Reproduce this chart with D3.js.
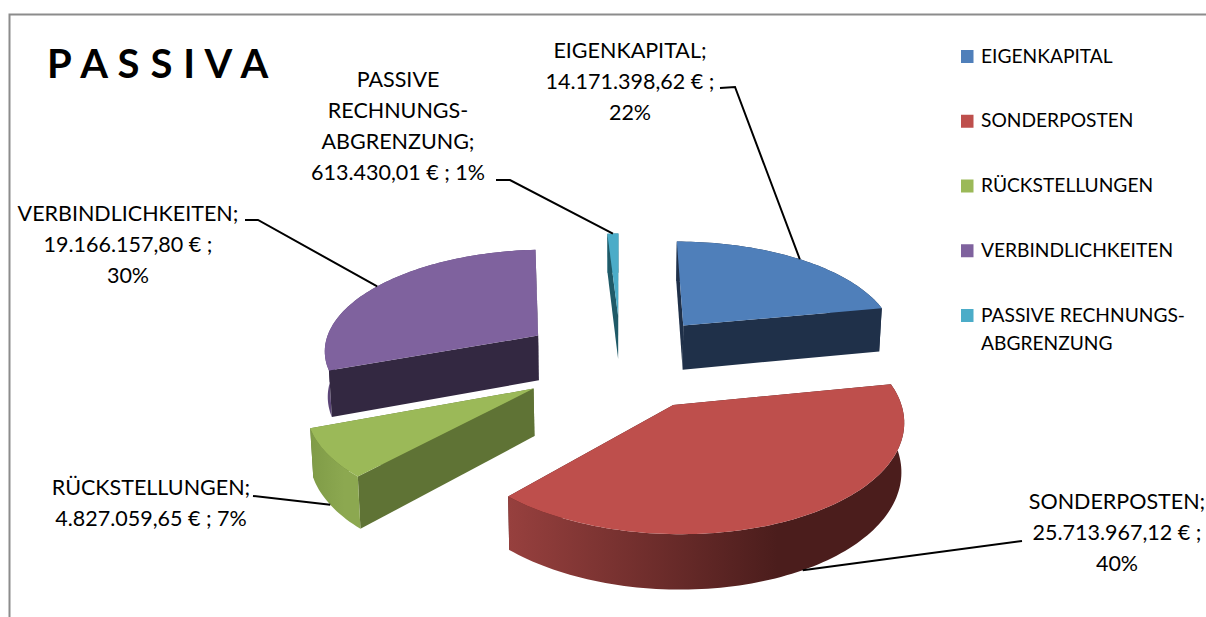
<!DOCTYPE html>
<html>
<head>
<meta charset="utf-8">
<script src="https://cdnjs.cloudflare.com/ajax/libs/d3/7.8.5/d3.min.js"></script>
<style>
html,body{margin:0;padding:0;background:#fff;}
svg{display:block;}
text{font-family:Lato,"Open Sans",sans-serif;fill:#000;}
</style>
</head>
<body>
<div id="chart"></div>
<script>
// data
var categories=["EIGENKAPITAL","SONDERPOSTEN","RÜCKSTELLUNGEN","VERBINDLICHKEITEN","PASSIVE RECHNUNGS-ABGRENZUNG"];
var values=[14171398.62,25713967.12,4827059.65,19166157.80,613430.01];
var nameLines=[["EIGENKAPITAL;"],["SONDERPOSTEN;"],["RÜCKSTELLUNGEN;"],["VERBINDLICHKEITEN;"],["PASSIVE","RECHNUNGS-","ABGRENZUNG;"]];
var legendLines=[["EIGENKAPITAL"],["SONDERPOSTEN"],["RÜCKSTELLUNGEN"],["VERBINDLICHKEITEN"],["PASSIVE RECHNUNGS-","ABGRENZUNG"]];

// colours
var topColors=["#4f7fba","#be4f4c","#9bb958","#7f629e","#4bacc8"];
var wallColors=["#1f3049","#4b1d1c","#5f7335","#332841","#1f5a68"];
var sideColors=[["#1f3049","#1f3049"],["#97403e","#4b1d1c"],["#7f9b47","#8ca850"],["#5c4678","#5c4678"],["#2a7a8e","#2a7a8e"]];

// layout of the labels (centre x, first line centre y, line step, leader start)
var labelX=[630,1117,151,128,398];
var labelY=[50,501,487,213,79];
var leaderStart=[[720,88,735,87],[1022,541,1022,541],[253,496,253,496],[245,220,258,220],[496,180,510,180]];
var leaderOnBottom=[false,true,true,false,false];
var joinPct=[false,false,true,false,true];

var width=1206,height=617;
var cx=621,cy=361,rx=217,ry=102,persp=0.12,explode=0.47,depth=46,lean=0.99;

var svg=d3.select("#chart").append("svg").attr("width",width).attr("height",height);
var defs=svg.append("defs");

// frame
svg.append("path")
    .attr("d","M9.5,"+height+"V14.5H"+width)
    .attr("fill","none")
    .attr("stroke","#8c8c8c")
    .attr("stroke-width",2);

svg.append("text")
    .attr("x",47)
    .attr("y",78)
    .style("font-weight","700")
    .style("font-size","40px")
    .style("letter-spacing","0.6px")
    .attr("xml:space","preserve")
    .text("P A S S I V A");

var xScale=d3.scaleLinear().domain([-1,1]).range([cx-rx,cx+rx]);
var yScale=d3.scaleLinear().domain([-1,1]).range([cy-ry,cy+ry]);
var line=d3.line().x(function(d){return d[0];}).y(function(d){return d[1];});

// plane coordinates to the screen, z=1 is the underside of the pie
function project(p,z){
    var w=1/(1-persp*p[1]);
    var X=xScale(p[0]*w);
    var Y=yScale(p[1]*w);
    if(z){
        X=cx+(X-cx)*lean;
        Y=Y+depth*w;
    }
    return [X,Y];
}

var total=d3.sum(values);
var money=d3.formatLocale({decimal:",",thousands:".",grouping:[3],currency:["",""]}).format(",.2f");
var pct=d3.format(".0%");

var pie=d3.pie().sort(null).value(function(d){return d;}).startAngle(0).endAngle(2*Math.PI);
var arcs=pie(values);

var slices=arcs.map(function(a,i){
    var mid=(a.startAngle+a.endAngle)/2;
    var s={i:i,a0:a.startAngle,a1:a.endAngle,mid:mid,
        ox:explode*Math.sin(mid),oy:-explode*Math.cos(mid)};
    s.at=function(ang,r){return [s.ox+r*Math.sin(ang),s.oy-r*Math.cos(ang)];};
    return s;
});

function drawSlice(s){
    var g=svg.append("g").attr("class","slice");
    var n=Math.max(4,Math.round((s.a1-s.a0)*40));
    var rim=d3.range(n+1).map(function(k){return s.at(s.a0+(s.a1-s.a0)*k/n,1);});
    var apex=s.at(0,0);

    var faces=[];
    [s.a0,s.a1].forEach(function(ang){
        var e=s.at(ang,1);
        faces.push({pts:[apex,e],radial:true,v:(apex[1]+e[1])/2});
    });
    faces.push({pts:rim,radial:false,v:d3.mean(rim,function(d){return d[1];})});
    faces.sort(function(a,b){return a.v-b.v;});

    faces.forEach(function(f){
        var up=f.pts.map(function(p){return project(p,0);});
        var down=f.pts.map(function(p){return project(p,1);}).reverse();
        var poly=up.concat(down);
        var fill=wallColors[s.i];
        if(!f.radial){
            var id="side"+s.i;
            var ext=d3.extent(poly,function(d){return d[0];});
            var gr=defs.append("linearGradient").attr("id",id)
                .attr("gradientUnits","userSpaceOnUse")
                .attr("x1",ext[0]).attr("x2",ext[1]).attr("y1",0).attr("y2",0);
            gr.append("stop").attr("offset",0).attr("stop-color",sideColors[s.i][0]);
            gr.append("stop").attr("offset",0.68).attr("stop-color",sideColors[s.i][1]);
            fill="url(#"+id+")";
        }
        g.append("path").attr("d",line(poly)+"Z").attr("fill",fill);
    });

    var topPts=[apex].concat(rim).map(function(p){return project(p,0);});
    g.append("path").attr("d",line(topPts)+"Z").attr("fill",topColors[s.i]);
}

slices.slice().sort(function(a,b){return a.oy-b.oy;}).forEach(drawSlice);

// leaders
slices.forEach(function(s){
    var end=project(s.at(s.mid,1),leaderOnBottom[s.i]?1:0);
    var st=leaderStart[s.i];
    svg.append("path")
        .attr("d",line([[st[0],st[1]],[st[2],st[3]],end]))
        .attr("fill","none")
        .attr("stroke","#000")
        .attr("stroke-width",2);
});

// data labels
slices.forEach(function(s){
    var i=s.i;
    var m=money(values[i])+" €";
    var p=pct(values[i]/total);
    var lines=nameLines[i].concat(joinPct[i]?[m+" ; "+p]:[m+" ;",p]);
    svg.append("g").selectAll("text").data(lines).enter().append("text")
        .attr("x",labelX[i])
        .attr("y",function(d,k){return labelY[i]+k*31.2;})
        .attr("dy","0.35em")
        .style("font-size","21.5px")
        .style("text-anchor","middle")
        .text(function(d){return d;});
});

// legend
var legendY=d3.scalePoint().domain(categories).range([56,315]);
categories.forEach(function(c,i){
    svg.append("rect")
        .attr("x",961)
        .attr("y",legendY(c)-6)
        .attr("width",12.5)
        .attr("height",13)
        .attr("fill",topColors[i]);
    svg.append("g").selectAll("text").data(legendLines[i]).enter().append("text")
        .attr("x",981)
        .attr("y",function(d,k){return legendY(c)+k*28;})
        .attr("dy","0.35em")
        .style("font-size","19.2px")
        .text(function(d){return d;});
});
</script>
</body>
</html>
